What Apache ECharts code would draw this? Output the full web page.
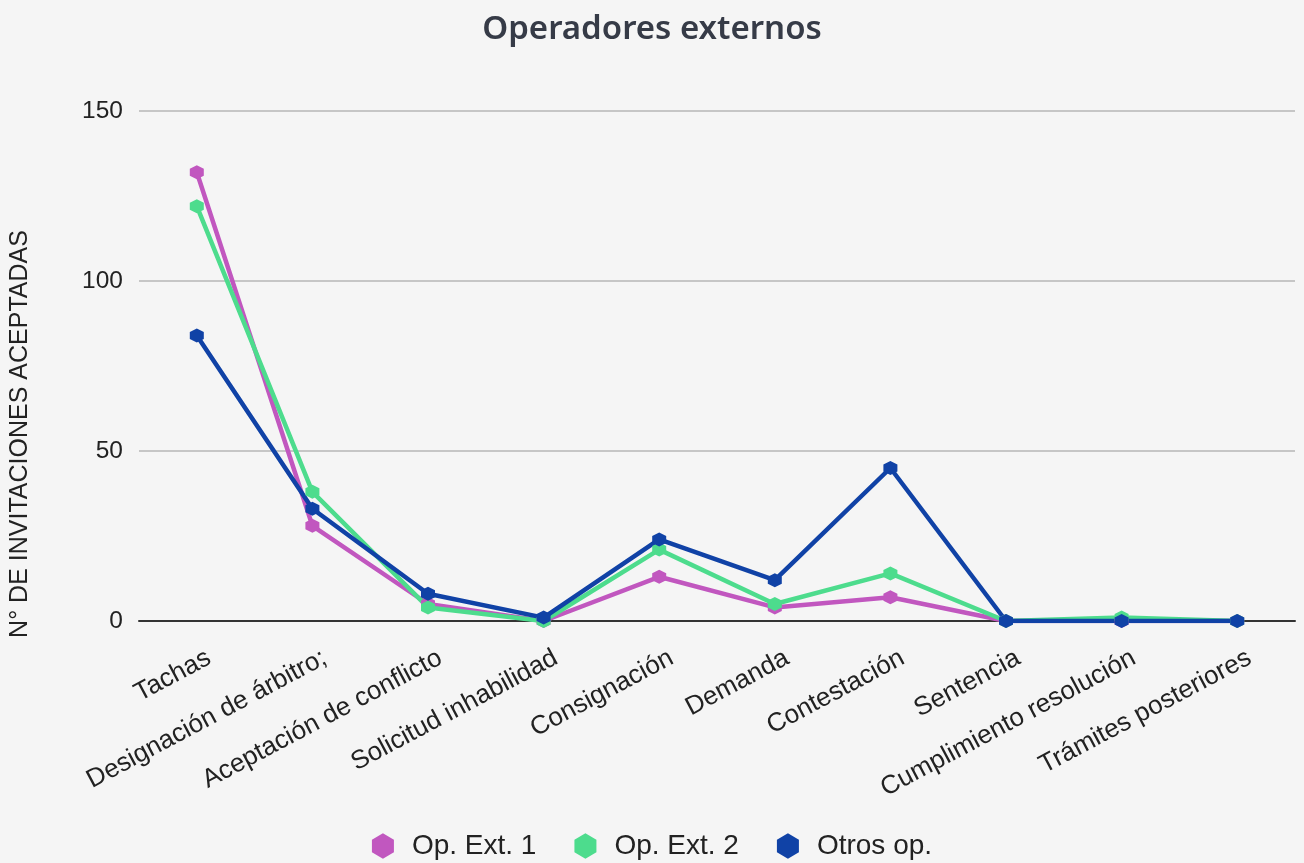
<!DOCTYPE html>
<html><head><meta charset="utf-8">
<script src="https://cdn.jsdelivr.net/npm/echarts@6/dist/echarts.min.js"></script>
<style>html,body{margin:0;padding:0;background:#f5f5f5;}#c{width:1304px;height:863px;}</style>
</head><body><div id="c"></div>
<script>
const categories = ["Tachas","Designación de árbitro;","Aceptación de conflicto","Solicitud inhabilidad","Consignación","Demanda","Contestación","Sentencia","Cumplimiento resolución","Trámites posteriores"];
const opExt1 = [132, 28, 5, 0, 13, 4, 7, 0, 0, 0];
const opExt2 = [122, 38, 4, 0, 21, 5, 14, 0, 1, 0];
const otros = [84, 33, 8, 1, 24, 12, 45, 0, 0, 0];
const seriesNames = ["Op. Ext. 1","Op. Ext. 2","Otros op."];
const colors = ["#c157bf","#4ddc8d","#1042a6"];
const hex = 'path://M50,0 L93.3,25 L93.3,75 L50,100 L6.7,75 L6.7,25 Z';
const chart = echarts.init(document.getElementById('c'));
const mk = (name, data, color) => ({
  name, type:'line', data, color,
  symbol: hex, symbolSize: 14, showSymbol: true,
  lineStyle:{width:4.5,color}, itemStyle:{color}, z: 3
});
chart.setOption({
  backgroundColor:'#f5f5f5',
  animation:false,
  title:{text:'Operadores externos', left:'center', top:8,
    textStyle:{fontFamily:'Noto Sans', fontSize:33, fontWeight:600, color:'#363b47'}},
  grid:{left:136, right:9, top:111, bottom:242},
  legend:{bottom:-2, left:'center', itemWidth:22, itemHeight:26, itemGap:38,
    icon: hex,
    textStyle:{fontFamily:'Liberation Sans', fontSize:28, color:'#222', padding:[0,0,0,13]},
    data: seriesNames},
  xAxis:{type:'category', data:categories, boundaryGap:true,
    axisLine:{lineStyle:{color:'#333', width:2}}, axisTick:{show:false},
    axisLabel:{rotate:28, interval:0, fontFamily:'Liberation Sans', fontSize:26, color:'#222', margin:42, padding:[0,-14,0,0]}},
  yAxis:{type:'value', min:0, max:150, interval:50,
    name:'N° DE INVITACIONES ACEPTADAS', nameLocation:'middle', nameGap:106,
    nameTextStyle:{fontFamily:'Liberation Sans', fontSize:25, color:'#222', padding:[0,136,0,0]},
    axisLine:{show:false}, axisTick:{show:false},
    splitLine:{lineStyle:{color:'#c6c6c6', width:2}},
    axisLabel:{fontFamily:'Liberation Sans', fontSize:24.5, color:'#222', margin:16}},
  series:[mk(seriesNames[0], opExt1, colors[0]), mk(seriesNames[1], opExt2, colors[1]), mk(seriesNames[2], otros, colors[2])]
});
</script></body></html>
